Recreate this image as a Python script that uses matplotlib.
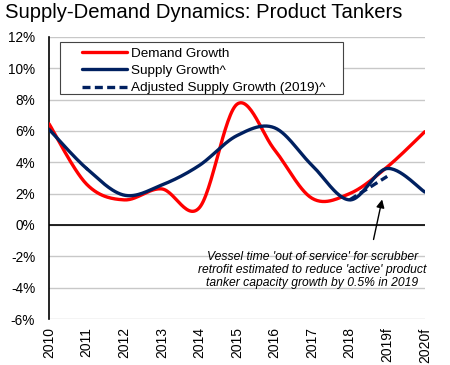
import matplotlib.pyplot as plt
from matplotlib.patches import Rectangle
import numpy as np

plt.rcParams['font.family'] = ['Liberation Sans', 'DejaVu Sans']

# DATA
years = ['2010', '2011', '2012', '2013', '2014', '2015', '2016', '2017', '2018', '2019f', '2020f']
demand = [6.45, 2.6, 1.6, 2.3, 1.1, 7.7, 4.8, 1.7, 2.0, 3.7, 5.95]  # [%]
supply = [6.1, 3.6, 1.9, 2.55, 3.8, 5.7, 6.2, 3.8, 1.6, 3.6, 2.1]  # [%]
adj_years = ['2018', '2019f']
adj_supply = [1.6, 3.1]  # [%]
yticks = [-6, -4, -2, 0, 2, 4, 6, 8, 10, 12]


def smooth(x, y, n=30):
    # Catmull-Rom curve through the points (like a spreadsheet "smoothed line")
    x = np.asarray(x, float)
    y = np.asarray(y, float)
    px = np.concatenate(([x[0]], x, [x[-1]]))
    py = np.concatenate(([y[0]], y, [y[-1]]))
    xs, ys = [], []
    t = np.linspace(0, 1, n)
    for i in range(1, len(px) - 2):
        for p, out in ((px, xs), (py, ys)):
            p0, p1, p2, p3 = p[i - 1], p[i], p[i + 1], p[i + 2]
            out.extend(0.5 * (2 * p1 + (-p0 + p2) * t
                              + (2 * p0 - 5 * p1 + 4 * p2 - p3) * t ** 2
                              + (-p0 + 3 * p1 - 3 * p2 + p3) * t ** 3))
    return np.array(xs), np.array(ys)


x = np.arange(len(years))
x_adj = np.array([years.index(a) for a in adj_years])

fig = plt.figure(figsize=(4.5, 3.65), dpi=100)
ax = fig.add_axes([0.109, 0.126, 0.835, 0.773])

# grid
for v in yticks:
    ax.axhline(v, color='#c8c8c8', lw=1.0, zorder=0)
ax.axhline(0, color='black', lw=1.2, zorder=1)

# lines
xs, ys = smooth(x, demand)
ax.plot(xs, ys, color='#ff0000', lw=2.4, label='Demand Growth', solid_capstyle='round', zorder=3)
xs, ys = smooth(x, supply)
ax.plot(xs, ys, color='#002060', lw=2.4, label='Supply Growth^', solid_capstyle='round', zorder=4)
ax.plot(x_adj, adj_supply, color='#002060', lw=2.4, ls=(0, (2.4, 1.3)),
        label='Adjusted Supply Growth (2019)^', zorder=4)

ax.set_xlim(0, len(years) - 1)
ax.set_ylim(-6, 12)
ax.set_yticks(yticks)
ax.set_yticklabels([f'{v}%' for v in yticks], fontsize=9.8)
ax.set_xticks(x)
ax.set_xticklabels(years, rotation=90, fontsize=10)
ax.tick_params(axis='y', length=0, pad=10)
ax.tick_params(axis='x', length=0, pad=6)

for s in ['top', 'right', 'bottom']:
    ax.spines[s].set_visible(False)
ax.spines['left'].set_color('black')
ax.spines['left'].set_linewidth(1.2)

# legend with a separate frame
ax.add_patch(Rectangle((0.029, 0.798), 0.753, 0.184, transform=ax.transAxes,
                       facecolor='white', edgecolor='#444444', lw=0.8, zorder=5))
leg = ax.legend(loc='upper left', bbox_to_anchor=(0.088, 0.963), fontsize=9.7,
                frameon=False, handlelength=3.3, borderpad=0, labelspacing=0.36,
                handletextpad=0.3, borderaxespad=0)
leg.set_zorder(6)

# annotation
ax.annotate('', xy=(8.88, 1.8), xytext=(8.62, -1.1),
            arrowprops=dict(arrowstyle='-|>', color='black', lw=1.0, mutation_scale=12))
ax.text(7.0, -2.85, "Vessel time 'out of service' for scrubber\n"
                    "retrofit estimated to reduce 'active' product\n"
                    "tanker capacity growth by 0.5% in 2019",
        ha='center', va='center', fontsize=8.7, style='italic', linespacing=1.12)

fig.text(0.011, 0.966, 'Supply-Demand Dynamics: Product Tankers', fontsize=14.6,
         ha='left', va='center')

fig.savefig('out.png', dpi=100)
